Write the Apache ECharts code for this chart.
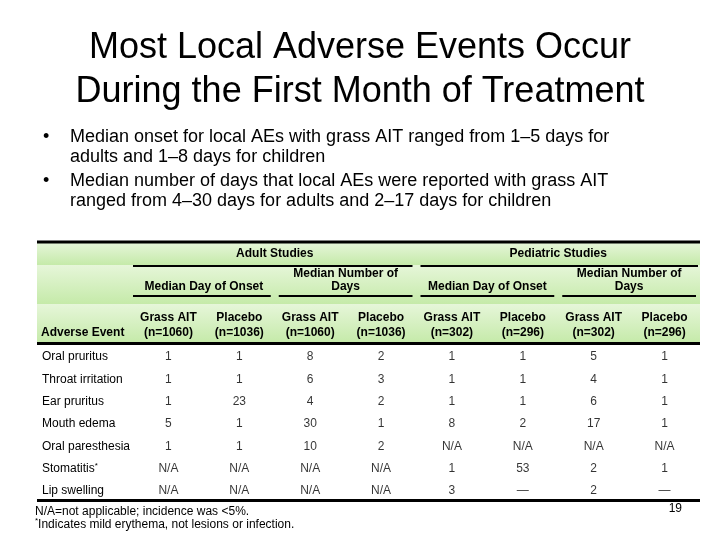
<!DOCTYPE html>
<html><head><meta charset="utf-8">
<script src="https://cdn.jsdelivr.net/npm/echarts@6/dist/echarts.min.js"></script>
<style>html,body{margin:0;padding:0;background:#fff}#c{width:720px;height:540px}</style>
</head><body><div id="c"></div>
<script>
var events = ['Oral pruritus','Throat irritation','Ear pruritus','Mouth edema','Oral paresthesia','Stomatitis*','Lip swelling'];
var columnLabels = ['Grass AIT\n(n=1060)','Placebo\n(n=1036)','Grass AIT\n(n=1060)','Placebo\n(n=1036)','Grass AIT\n(n=302)','Placebo\n(n=296)','Grass AIT\n(n=302)','Placebo\n(n=296)'];
var groupLabels = ['Adult Studies','Pediatric Studies'];
var subGroupLabels = ['Median Day of Onset','Median Number of\nDays','Median Day of Onset','Median Number of\nDays'];
var adultOnsetGrass   = ['1','1','1','5','1','N/A','N/A'];
var adultOnsetPlacebo = ['1','1','23','1','1','N/A','N/A'];
var adultDaysGrass    = ['8','6','4','30','10','N/A','N/A'];
var adultDaysPlacebo  = ['2','3','2','1','2','N/A','N/A'];
var pedOnsetGrass     = ['1','1','1','8','N/A','1','3'];
var pedOnsetPlacebo   = ['1','1','1','2','N/A','53','\u2014'];
var pedDaysGrass      = ['5','4','6','17','N/A','2','2'];
var pedDaysPlacebo    = ['1','1','1','1','N/A','1','\u2014'];
var columnsValues = [adultOnsetGrass, adultOnsetPlacebo, adultDaysGrass, adultDaysPlacebo, pedOnsetGrass, pedOnsetPlacebo, pedDaysGrass, pedDaysPlacebo];

var FONT = 'Arial, "Liberation Sans", sans-serif';
var tableLeft = 37, tableRight = 700, gridLeft = 133, gridTop = 346, gridBottom = 502;
var colW = (tableRight - gridLeft) / columnLabels.length;

var cells = [];
columnsValues.forEach(function (col, ci) {
  col.forEach(function (v, ri) { cells.push([ci, ri, v]); });
});

function band(y0, y1) {
  return {type:'rect', shape:{x:tableLeft, y:y0, width:tableRight-tableLeft, height:y1-y0}, z:-10,
    style:{fill:new echarts.graphic.LinearGradient(0,0,0,1,[{offset:0,color:'#e6f6d9'},{offset:1,color:'#c5eaa9'}])}};
}
function hline(x0, x1, y, w) {
  return {type:'line', shape:{x1:x0, y1:y, x2:x1, y2:y}, style:{stroke:'#000', lineWidth:w}, z:5};
}
var graphics = [band(243,265), band(265,304), band(304,343),
  hline(tableLeft, tableRight, 242, 3), hline(tableLeft, tableRight, 343.5, 3), hline(tableLeft, tableRight, 500.5, 3)];
groupLabels.forEach(function (t, i) {
  var x0 = gridLeft + i*4*colW, x1 = x0 + 4*colW;
  graphics.push(hline(x0 + (i?4:0), x1 - (i?2:4), 266, 2));
  graphics.push({type:'text', x:(x0+x1)/2, y:254, style:{text:t, font:'bold 12px '+FONT, fill:'#000', align:'center', verticalAlign:'middle'}});
});
subGroupLabels.forEach(function (t, i) {
  var x0 = gridLeft + i*2*colW, x1 = x0 + 2*colW;
  graphics.push(hline(x0 + (i?4:0), x1 - 4, 296, 2));
  graphics.push({type:'text', x:(x0+x1)/2, y:293, style:{text:t, font:'bold 12px '+FONT, fill:'#000', align:'center', verticalAlign:'bottom', lineHeight:13}});
});
graphics.push({type:'text', x:41, y:333, style:{text:'Adverse Event', font:'bold 12px '+FONT, fill:'#000', align:'left', verticalAlign:'middle'}});
graphics.push({type:'text', x:43, y:137, style:{text:'\u2022', font:'18px '+FONT, fill:'#000', align:'left', verticalAlign:'middle'}});
graphics.push({type:'text', x:43, y:181, style:{text:'\u2022', font:'18px '+FONT, fill:'#000', align:'left', verticalAlign:'middle'}});
graphics.push({type:'text', x:70, y:127, style:{text:'Median onset for local AEs with grass AIT ranged from 1\u20135 days for\nadults and 1\u20138 days for children', font:'18px '+FONT, fill:'#000', lineHeight:20, align:'left', verticalAlign:'top'}});
graphics.push({type:'text', x:70, y:171, style:{text:'Median number of days that local AEs were reported with grass AIT\nranged from 4\u201330 days for adults and 2\u201317 days for children', font:'18px '+FONT, fill:'#000', lineHeight:20, align:'left', verticalAlign:'top'}});
graphics.push({type:'text', x:35, y:505.5, style:{text:'N/A=not applicable; incidence was <5%.\n{sup|*}Indicates mild erythema, not lesions or infection.', font:'12px '+FONT, fill:'#000', lineHeight:12.5, align:'left', verticalAlign:'top',
  rich:{sup:{fontSize:8, fontFamily:FONT, padding:[0,0,6,0]}}}});
graphics.push({type:'text', x:682, y:509, style:{text:'19', font:'12px '+FONT, fill:'#000', align:'right', verticalAlign:'middle'}});

var chart = echarts.init(document.getElementById('c'), null, {renderer:'canvas'});
chart.setOption({
  backgroundColor:'#fff',
  animation:false,
  title:{text:'Most Local Adverse Events Occur\nDuring the First Month of Treatment', left:'center', top:26, padding:0,
    textStyle:{fontFamily:FONT, fontSize:36, fontWeight:'normal', color:'#000', lineHeight:44}},
  grid:{left:gridLeft, right:720-tableRight, top:gridTop, bottom:540-gridBottom},
  xAxis:{type:'category', data:columnLabels, position:'top', axisLine:{show:false}, axisTick:{show:false}, splitLine:{show:false},
    axisLabel:{fontFamily:FONT, fontSize:12, fontWeight:'bold', color:'#000', lineHeight:15, margin:6, interval:0}},
  yAxis:{type:'category', data:events, inverse:true, axisLine:{show:false}, axisTick:{show:false}, splitLine:{show:false},
    axisLabel:{align:'left', margin:gridLeft-42, fontFamily:FONT, fontSize:12, color:'#000',
      formatter:function (v) { return v.replace('*','{sup|*}'); },
      rich:{sup:{fontSize:8, fontFamily:FONT, color:'#000', padding:[0,0,6,0]}}}},
  series:[{type:'scatter', data:cells, encode:{x:0,y:1}, symbolSize:1, itemStyle:{color:'rgba(0,0,0,0)'},
    label:{show:true, position:'inside', formatter:function(p){return p.value[2];}, fontFamily:FONT, fontSize:12, color:'#000'}}],
  graphic:graphics
});
</script></body></html>
